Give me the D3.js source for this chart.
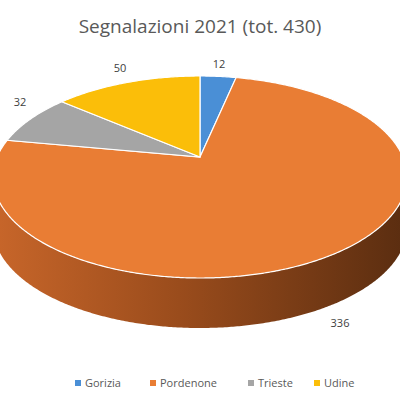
<!DOCTYPE html><html><head><script src="https://cdn.jsdelivr.net/npm/d3@7"></script>
<style>body{margin:0;background:#fff}</style></head><body><svg id="c" width="400" height="400"></svg>
<script>
const categories=["Gorizia","Pordenone","Trieste","Udine"];
const values=[12,336,32,50];
const colors=["#4a8fd6","#e97d34","#a5a5a5","#fbbe09"];
const title="Segnalazioni 2021 (tot. 430)";
const svg=d3.select("#c");
const cx=200,cy=177,rx=207,ry=101,depth=50,ax=200,ay=157;
const pie=d3.pie().sort(null).value(d=>d)(values);
const P=(a,dy=0)=>[cx+rx*Math.sin(a),cy-ry*Math.cos(a)+dy];
const defs=svg.append("defs");
const g=defs.append("linearGradient").attr("id","sg").attr("x1","0").attr("x2","1");
g.append("stop").attr("offset","0").attr("stop-color","#c8662a");
g.append("stop").attr("offset","0.45").attr("stop-color","#9a4c1c");
g.append("stop").attr("offset","1").attr("stop-color","#5a2d10");
pie.forEach((s,i)=>{
  const a0=Math.max(s.startAngle,Math.PI/2),a1=Math.min(s.endAngle,3*Math.PI/2);
  if(a1<=a0)return;
  const top=d3.range(a0,a1,0.01).concat([a1]).map(a=>P(a));
  const bot=top.map(p=>[p[0],p[1]+depth]).reverse();
  svg.append("path").attr("d",d3.line()(top.concat(bot))+"Z").attr("fill",i==1?"url(#sg)":d3.color(colors[i]).darker(0.8));
});
pie.forEach((s,i)=>{
  const pts=[[ax,ay]].concat(d3.range(s.startAngle,s.endAngle,0.01).concat([s.endAngle]).map(a=>P(a)));
  svg.append("path").attr("d",d3.line()(pts)+"Z").attr("fill",colors[i]).attr("stroke","#fff").attr("stroke-width",1.2);
});
svg.append("text").attr("x",200).attr("y",33).attr("text-anchor","middle").attr("font-family","Open Sans, sans-serif").attr("font-size",19).attr("fill","#595959").text(title);
const labPos=[[219,68],[340,327],[20,106],[120,72]];
values.forEach((v,i)=>svg.append("text").attr("x",labPos[i][0]).attr("y",labPos[i][1]).attr("text-anchor","middle").attr("font-family","Open Sans, sans-serif").attr("font-size",11).attr("fill","#404040").text(v));
const lx=[75,150,248,314];
categories.forEach((c,i)=>{
  svg.append("rect").attr("x",lx[i]).attr("y",380).attr("width",6).attr("height",6).attr("fill",colors[i]);
  svg.append("text").attr("x",lx[i]+10).attr("y",387).attr("font-family","Open Sans, sans-serif").attr("font-size",11).attr("fill","#595959").text(c);
});
</script></body></html>
